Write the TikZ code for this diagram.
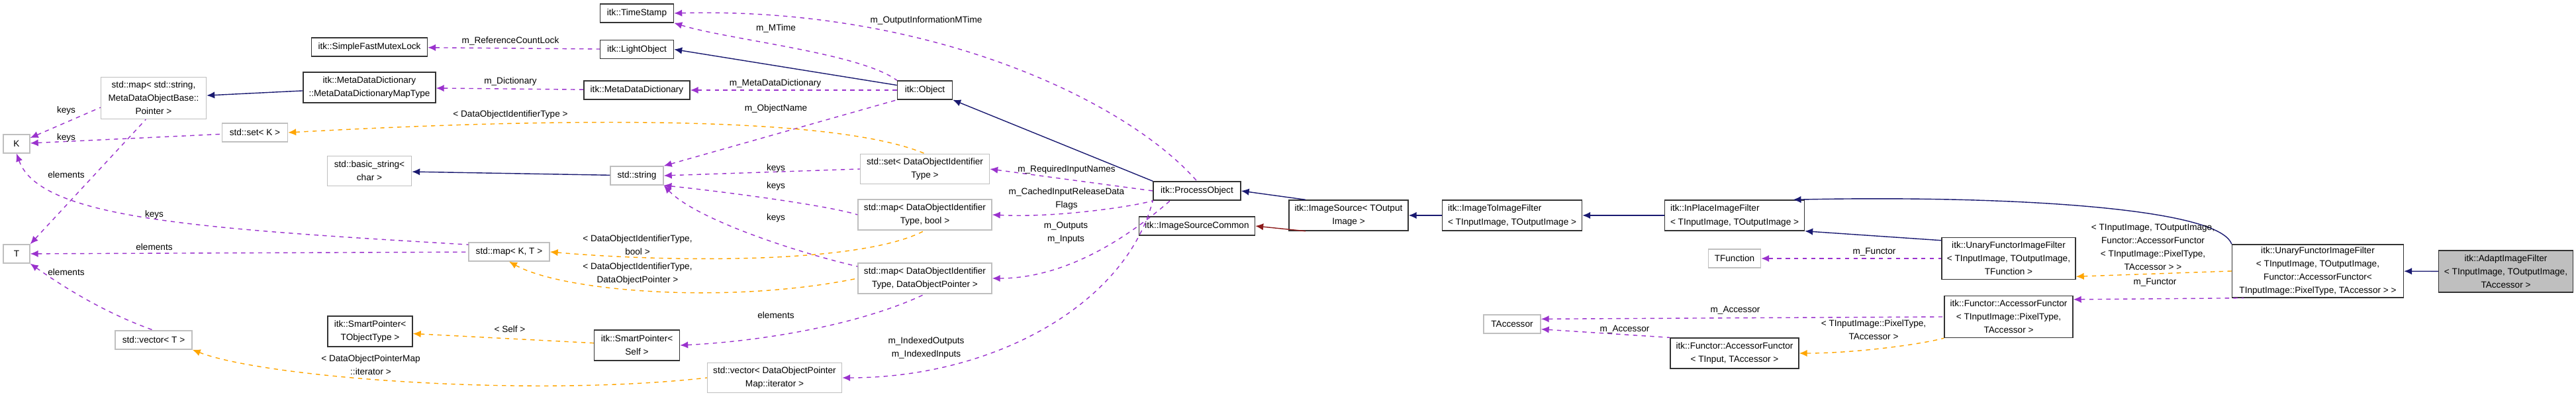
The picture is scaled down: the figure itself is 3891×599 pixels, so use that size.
\documentclass[tikz,border=0pt]{standalone}
\usepackage{fontspec}
\setmainfont{Liberation Sans}
\usetikzlibrary{arrows.meta}
\definecolor{navy}{HTML}{191970}
\definecolor{dred}{HTML}{8B1A1A}
\definecolor{purp}{HTML}{9A32CD}
\definecolor{orng}{HTML}{FFA500}
\definecolor{gbox}{HTML}{BFBFBF}
\tikzset{
 cls/.style={draw=black!80,line width=0.35pt,inner sep=0pt,align=center,font=\fontsize{3.4}{5}\selectfont},
 ext/.style={cls,draw=gbox},
 lbl/.style={inner sep=0pt,align=center,font=\fontsize{3.4}{5}\selectfont},
 tip/.style={{Latex[length=3pt,width=2.6pt]}-},
 inh/.style={tip,navy,line width=0.35pt},
 prv/.style={tip,dred,line width=0.35pt},
 use/.style={tip,purp,line width=0.35pt,dash pattern=on 1.6pt off 1.6pt},
 tpl/.style={tip,orng,line width=0.35pt,dash pattern=on 1.6pt off 1.6pt},
}
\begin{document}
\begin{tikzpicture}[x=0.25pt,y=-0.25pt]
\useasboundingbox (0,0) rectangle (3891,599);
\node[cls,minimum width=43.75pt,minimum height=7pt] (sfml) at (558,71) {itk::SimpleFastMutexLock};
\node[cls,minimum width=50pt,minimum height=11.5pt] (mddmt) at (558,132) {itk::MetaDataDictionary\\::MetaDataDictionaryMapType};
\node[ext,minimum width=39.75pt,minimum height=15.75pt] (mapstr) at (232,148) {std::map< std::string,\\MetaDataObjectBase::\\Pointer >};
\node[ext,minimum width=10pt,minimum height=7pt] (K) at (25,217) {K};
\node[ext,minimum width=24.75pt,minimum height=7pt] (setK) at (385,200) {std::set< K >};
\node[ext,minimum width=31.75pt,minimum height=11.25pt] (bstr) at (558,258) {std::basic\_string<\\char >};
\node[ext,minimum width=10pt,minimum height=7pt] (T) at (25,383) {T};
\node[ext,minimum width=29pt,minimum height=7pt] (vecT) at (232,513) {std::vector< T >};
\node[cls,minimum width=32pt,minimum height=11.5pt] (spT) at (559,500) {itk::SmartPointer<\\TObjectType >};
\node[cls,minimum width=27.75pt,minimum height=7pt] (ts) at (962,20) {itk::TimeStamp};
\node[cls,minimum width=27.75pt,minimum height=7pt] (lo) at (962,74.5) {itk::LightObject};
\node[cls,minimum width=40pt,minimum height=7pt] (mdd) at (962,136) {itk::MetaDataDictionary};
\node[ext,minimum width=20pt,minimum height=7pt] (str) at (962,265) {std::string};
\node[ext,minimum width=30.5pt,minimum height=7pt] (mapKT) at (769,380) {std::map< K, T >};
\node[cls,minimum width=32.25pt,minimum height=11.5pt] (spS) at (962,521) {itk::SmartPointer<\\Self >};
\node[ext,minimum width=50.75pt,minimum height=11.25pt] (vecit) at (1170,570) {std::vector< DataObjectPointer\\Map::iterator >};
\node[cls,minimum width=20.75pt,minimum height=7pt] (obj) at (1397,136) {itk::Object};
\node[ext,minimum width=48.75pt,minimum height=11.25pt] (setid) at (1397,255) {std::set< DataObjectIdentifier\\Type >};
\node[ext,minimum width=50.5pt,minimum height=11.5pt] (mapb) at (1397,324) {std::map< DataObjectIdentifier\\Type, bool >};
\node[ext,minimum width=50.5pt,minimum height=11.5pt] (mapp) at (1397,420) {std::map< DataObjectIdentifier\\Type, DataObjectPointer >};
\node[cls,minimum width=33pt,minimum height=7pt] (po) at (1808,288) {itk::ProcessObject};
\node[cls,minimum width=43.75pt,minimum height=7pt] (isc) at (1808,341) {itk::ImageSourceCommon};
\node[cls,minimum width=45pt,minimum height=11.5pt] (is) at (2037,325) {itk::ImageSource< TOutput\\Image >};
\node[cls,minimum width=52.75pt,minimum height=11.5pt] (iti) at (2284,325) {\begin{tabular}{@{}l@{}}itk::ImageToImageFilter\\< TInputImage, TOutputImage >\end{tabular}};
\node[ext,minimum width=21.5pt,minimum height=7pt] (tacc) at (2284,489) {TAccessor};
\node[cls,minimum width=52.75pt,minimum height=11.5pt] (ipf) at (2620,325) {\begin{tabular}{@{}l@{}}itk::InPlaceImageFilter\\< TInputImage, TOutputImage >\end{tabular}};
\node[ext,minimum width=19.75pt,minimum height=7pt] (tfun) at (2620,390) {TFunction};
\node[cls,minimum width=50.5pt,minimum height=15.75pt] (uf1) at (3034,390) {itk::UnaryFunctorImageFilter\\< TInputImage, TOutputImage,\\TFunction >};
\node[cls,minimum width=48.5pt,minimum height=15.75pt] (af1) at (3034,478) {itk::Functor::AccessorFunctor\\< TInputImage::PixelType,\\TAccessor >};
\node[cls,minimum width=48.5pt,minimum height=11.5pt] (af2) at (2620,533) {itk::Functor::AccessorFunctor\\< TInput, TAccessor >};
\node[cls,minimum width=64.75pt,minimum height=20pt] (uf2) at (3501,409) {itk::UnaryFunctorImageFilter\\< TInputImage, TOutputImage,\\Functor::AccessorFunctor<\\TInputImage::PixelType, TAccessor > >};
\node[cls,fill=gbox,minimum width=50.75pt,minimum height=15.75pt] (aif) at (3785,409.5) {itk::AdaptImageFilter\\< TInputImage, TOutputImage,\\TAccessor >};
% inheritance
\draw[inh] (mapstr) -- (mddmt);
\draw[inh] (lo.east) -- (obj.170);
\draw[inh] (obj.south east) -- (po.north west);
\draw[inh] (bstr) -- (str);
\draw[inh] (po.east) -- (is.160);
\draw[prv] (isc.east) -- (is.200);
\draw[inh] (is) -- (iti);
\draw[inh] (iti) -- (ipf);
\draw[inh] (ipf.south east) -- (uf1.165);
\draw[inh] (ipf.15) .. controls (3000,295) and (3350,310) .. (uf2.north west);
\draw[inh] (uf2) -- (aif);
% usage
\draw[use] (sfml) -- (lo);
\draw[use] (mddmt) -- (mdd);
\draw[use] (mdd) -- (obj);
\draw[use] (ts.south east) .. controls (1100,60) and (1300,80) .. (obj.north west);
\draw[use] (ts.east) .. controls (1400,10) and (1700,150) .. (po.north);
\draw[use] (str.north east) -- (obj.south west);
\draw[use] (str.east) -- (setid.west);
\draw[use] (str.340) .. controls (1100,290) and (1250,310) .. (mapb.west);
\draw[use] (str.south east) .. controls (1050,330) and (1200,380) .. (mapp.170);
\draw[use] (K) -- (mapstr.190);
\draw[use] (K) -- (setK);
\draw[use] (K.south) .. controls (60,330) and (300,345) .. (mapKT.170);
\draw[use] (T.north east) -- (mapstr.250);
\draw[use] (T) -- (mapKT);
\draw[use] (T.south east) .. controls (120,450) and (180,480) .. (vecT.north);
\draw[use] (setid.east) -- (po.west);
\draw[use] (mapb.east) .. controls (1600,329) and (1720,310) .. (po.south west);
\draw[use] (mapp.east) .. controls (1600,420) and (1690,370) .. (po.200);
\draw[use] (vecit.east) .. controls (1500,570) and (1700,460) .. (po.south west);
\draw[use] (spS.east) .. controls (1150,515) and (1300,490) .. (mapp.south);
\draw[use] (tfun) -- (uf1);
\draw[use] (tacc.10) -- (af1.west);
\draw[use] (tacc.350) -- (af2.north west);
\draw[use] (af1.15) -- (uf2.200);
% template
\draw[tpl] (setK.east) .. controls (800,180) and (1250,170) .. (setid.north);
\draw[tpl] (mapKT.east) .. controls (1000,395) and (1300,400) .. (mapb.south);
\draw[tpl] (mapKT.south) .. controls (850,440) and (1100,460) .. (mapp.west);
\draw[tpl] (spT) -- (spS);
\draw[tpl] (vecT.south east) .. controls (400,570) and (800,600) .. (vecit.west);
\draw[tpl] (af2.east) .. controls (2800,533) and (2900,520) .. (af1.south west);
\draw[tpl] (uf1.345) -- (uf2.west);
% labels
\node[lbl] (l1) at (771,62) {m\_ReferenceCountLock};
\node[lbl] (l2) at (771,123) {m\_Dictionary};
\node[lbl] (l3) at (1171,126) {m\_MetaDataDictionary};
\node[lbl] (l4) at (1172,43) {m\_MTime};
\node[lbl] (l5) at (1399,31) {m\_OutputInformationMTime};
\node[lbl] (l6) at (1172,164) {m\_ObjectName};
\node[lbl] (l7) at (1172,254) {keys};
\node[lbl] (l8) at (1172,281) {keys};
\node[lbl] (l9) at (1172,328.5) {keys};
\node[lbl] (l10) at (771,173) {< DataObjectIdentifierType >};
\node[lbl] (l11) at (963,370) {< DataObjectIdentifierType,\\bool >};
\node[lbl] (l12) at (963,413) {< DataObjectIdentifierType,\\DataObjectPointer >};
\node[lbl] (l13) at (1172,476) {elements};
\node[lbl] (l14) at (770,497) {< Self >};
\node[lbl] (l15) at (560,551) {< DataObjectPointerMap\\::iterator >};
\node[lbl] (l16) at (100,166.5) {keys};
\node[lbl] (l17) at (100,207.5) {keys};
\node[lbl] (l18) at (100,263.5) {elements};
\node[lbl] (l19) at (233,324) {keys};
\node[lbl] (l20) at (233,372.5) {elements};
\node[lbl] (l21) at (100,410.6) {elements};
\node[lbl] (l22) at (1611,256) {m\_RequiredInputNames};
\node[lbl] (l23) at (1611,300) {m\_CachedInputReleaseData\\Flags};
\node[lbl] (l24) at (1610,351) {m\_Outputs\\m\_Inputs};
\node[lbl] (l25) at (1399,525) {m\_IndexedOutputs\\m\_IndexedInputs};
\node[lbl] (l26) at (2831,380) {m\_Functor};
\node[lbl] (l27) at (2621,468) {m\_Accessor};
\node[lbl] (l28) at (2454,497) {m\_Accessor};
\node[lbl] (l29) at (2830,498) {< TInputImage::PixelType,\\TAccessor >};
\node[lbl] (l30) at (3252,372.5) {< TInputImage, TOutputImage,\\Functor::AccessorFunctor\\< TInputImage::PixelType,\\TAccessor > >};
\node[lbl] (l31) at (3255,426) {m\_Functor};
\end{tikzpicture}
\end{document}
